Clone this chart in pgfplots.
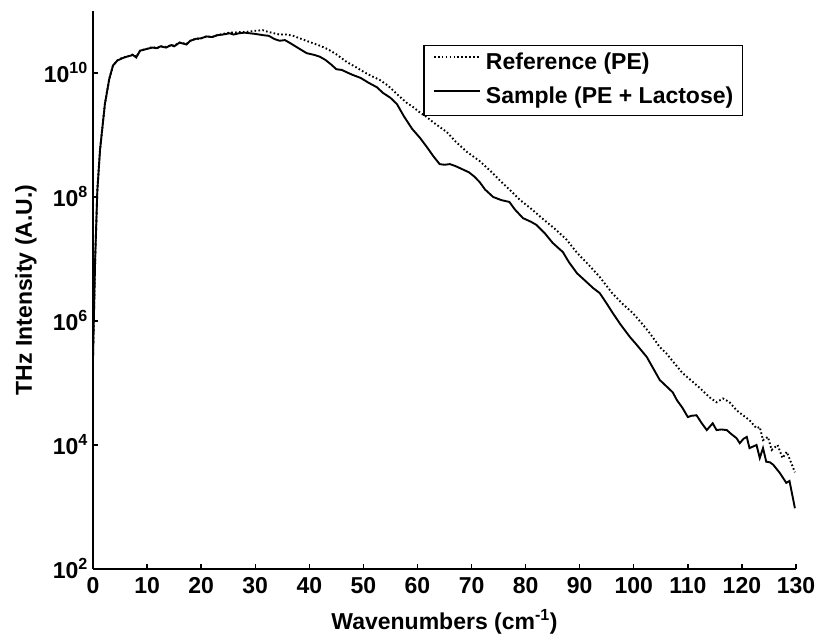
\documentclass[border=0pt]{standalone}
\usepackage{pgfplots}
\pgfplotsset{compat=1.18}
\usepackage{fontspec}
\setmainfont{Liberation Sans}
\pgfplotstableread{
x y
0 2.51e5
0.4 1.00e7
0.8 1.26e8
1.3 5.75e8
2.2 3.16e9
3.0 7.94e9
3.7 1.32e10
4.5 1.59e10
5.5 1.74e10
6.5 1.86e10
7.4 1.95e10
8.0 1.78e10
8.7 2.29e10
10 2.45e10
11 2.57e10
11.8 2.51e10
12.5 2.69e10
13.5 2.57e10
14.5 2.82e10
15 2.69e10
16 3.09e10
17.3 2.88e10
18 3.31e10
19 3.55e10
20 3.63e10
21 3.89e10
22 3.80e10
23 4.07e10
24 4.17e10
25.3 4.37e10
26 4.17e10
27 4.37e10
28 4.47e10
29 4.37e10
30 4.27e10
31.5 4.07e10
32.5 3.98e10
33.5 3.55e10
34.5 3.31e10
35.5 3.39e10
36.5 3.02e10
38 2.51e10
39.5 2.09e10
41 1.95e10
42 1.82e10
43 1.62e10
44 1.38e10
45 1.15e10
46 1.12e10
47 1.02e10
48 9.33e9
49.5 8.32e9
51 6.92e9
52.5 5.89e9
53.6 4.79e9
55 3.98e9
56.2 3.16e9
57.5 2.00e9
59 1.26e9
60.5 8.91e8
61.7 6.46e8
63 4.47e8
64.1 3.39e8
65 3.31e8
66 3.39e8
67 3.16e8
68 2.88e8
69.5 2.51e8
70.5 2.14e8
71.5 1.74e8
72.5 1.32e8
74 1.00e8
75.5 8.91e7
77 8.32e7
78 6.31e7
79.5 4.57e7
81 3.98e7
82 3.55e7
83.5 2.63e7
85 1.82e7
86.9 1.29e7
88 8.91e6
89.5 5.89e6
91 4.47e6
92.5 3.39e6
93.7 2.82e6
95 1.91e6
96.1 1.35e6
97.5 8.91e5
99.3 5.50e5
100.5 4.17e5
102.4 2.63e5
103.5 1.78e5
104.8 1.12e5
106 8.91e4
107.2 7.08e4
108 5.25e4
109 3.98e4
110 2.82e4
110.6 2.95e4
111.6 3.02e4
112.5 2.29e4
113.5 1.74e4
114.6 2.24e4
115.3 1.74e4
116.2 1.78e4
117.2 1.74e4
118 1.51e4
119 1.29e4
119.6 1.07e4
120.3 1.26e4
120.9 1.35e4
121.4 8.91e3
122.7 1.00e4
123.3 6.17e3
123.9 8.91e3
124.5 5.37e3
125.2 5.25e3
125.8 4.79e3
127 3.55e3
128.2 2.45e3
128.8 2.63e3
129.3 1.58e3
129.8 9.55e2
}\sampletab
\pgfplotstableread{
x y
0 2.51e5
0.4 1.00e7
0.8 1.26e8
1.3 5.75e8
2.2 3.16e9
3.0 7.94e9
3.7 1.32e10
4.5 1.59e10
5.5 1.78e10
6.5 1.86e10
7.4 2.00e10
8.0 1.82e10
8.7 2.29e10
10 2.45e10
11 2.63e10
11.8 2.51e10
12.5 2.69e10
13.5 2.63e10
14.5 2.82e10
15 2.75e10
16 3.09e10
17.3 2.95e10
18 3.31e10
19 3.55e10
20 3.63e10
21 3.89e10
22 3.80e10
23 4.07e10
24 4.27e10
25.3 4.47e10
26 4.47e10
27 4.57e10
28 4.57e10
29 4.68e10
30 4.79e10
31.4 4.90e10
32.5 4.57e10
33.5 4.37e10
34.5 4.17e10
35.8 4.17e10
37 3.98e10
38.5 3.55e10
40.7 3.02e10
42 2.75e10
43.5 2.40e10
45 2.00e10
46.9 1.51e10
48.5 1.26e10
50 1.05e10
51.5 8.91e9
53 7.76e9
54.5 6.31e9
56.7 4.17e9
58 3.31e9
59.2 2.82e9
60.5 2.29e9
61.7 1.95e9
63 1.58e9
65.4 1.12e9
67 7.94e8
69.1 5.37e8
71.5 3.80e8
73.5 2.63e8
75.2 1.86e8
77 1.32e8
79 8.91e7
81.3 6.17e7
83 4.57e7
85.5 3.02e7
87.6 2.04e7
89.5 1.26e7
91.5 8.32e6
93.7 5.13e6
96 2.82e6
98 1.86e6
99.8 1.35e6
101.5 9.12e5
103 6.31e5
104.8 3.80e5
106 3.02e5
107.5 2.09e5
109 1.45e5
110.5 1.12e5
112.2 8.32e4
114 5.89e4
115.3 4.90e4
116.5 5.62e4
117.7 4.90e4
119 3.63e4
120.2 3.02e4
121.4 2.51e4
122.7 1.86e4
123.3 1.95e4
123.9 1.20e4
124.8 1.35e4
125.5 8.32e3
126.6 1.00e4
127.5 6.17e3
128.3 7.76e3
129.8 3.63e3
}\reftab
\newcommand{\lbl}{\bfseries\fontsize{23}{27.6}\selectfont}
\begin{document}
\begin{tikzpicture}
\begin{axis}[
  scale only axis,
  width=703pt, height=558pt,
  ymode=log,
  xmin=0, xmax=130,
  ymin=1e2, ymax=1e11,
  axis x line*=bottom,
  axis y line*=left,
  axis line style={line width=1.8pt},
  tick align=inside,
  major tick length=5pt,
  every tick/.style={line width=1.4pt, black},
  xtick={0,10,...,130},
  ytick={1e2,1e4,1e6,1e8,1e10},
  yticklabels={10\textsuperscript{2},10\textsuperscript{4},10\textsuperscript{6},10\textsuperscript{8},10\textsuperscript{10}},
  minor ytick={},
  /pgf/number format/assume math mode=true,
  font=\lbl,
  ticklabel style={font=\lbl, inner sep=0pt},
  xticklabel style={anchor=base, yshift=-25pt},
  yticklabel style={anchor=base east, xshift=-5pt, yshift=-10pt},
  xlabel={Wavenumbers (cm\textsuperscript{-1})},
  ylabel={THz Intensity (A.U.)},
  xlabel style={at={(axis description cs:0.5,0)}, anchor=base, inner sep=0pt, yshift=-61pt},
  ylabel style={at={([xshift=-61pt]axis description cs:0,0.5)}, anchor=base, inner sep=0pt},
  legend style={at={(0.9246,0.939)}, anchor=north east, draw=black, line width=1.4pt,
    font=\lbl, inner xsep=9pt, inner ysep=7pt,
    nodes={inner sep=0pt, text height=17pt, text depth=5pt},
    row sep=12pt, column sep=5pt, legend cell align=left},
  legend image code/.code={\draw[#1] (0pt,7pt) -- (46pt,7pt);},
]
\addplot[black, line width=1.9pt, dash pattern=on 1.6pt off 2.3pt] table {\reftab};
\addlegendentry{Reference (PE)}
\addplot[black, line width=1.9pt] table {\sampletab};
\addlegendentry{Sample (PE + Lactose)}
\end{axis}
\path ([xshift=-93pt,yshift=-67pt]current axis.south west) rectangle ([xshift=23pt,yshift=11pt]current axis.north east);
\end{tikzpicture}
\end{document}
